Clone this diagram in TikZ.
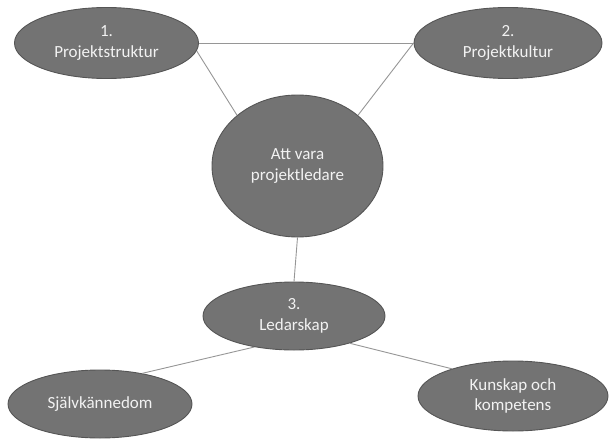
\documentclass[tikz,border=0pt]{standalone}
\usepackage{fontspec}
\setmainfont{Carlito}
\usetikzlibrary{shapes.geometric}
\definecolor{ellfill}{RGB}{115,115,115}
\definecolor{elldraw}{RGB}{85,85,85}
\definecolor{elltext}{RGB}{242,242,242}
\definecolor{linkcol}{RGB}{150,150,150}
\tikzset{
  bubble/.style={ellipse, draw=elldraw, line width=0.9pt, fill=ellfill,
    text=elltext, inner sep=0pt, align=center,
    font=\fontsize{17}{20.5}\selectfont},
  link/.style={draw=linkcol, line width=0.9pt}
}
\begin{document}
\begin{tikzpicture}[x=1pt,y=-1pt]
\useasboundingbox (0,0) rectangle (610,439);
\node[bubble, minimum width=184pt, minimum height=71pt] (n1) at (106.5,43) {1.\\Projektstruktur};
\node[bubble, minimum width=188pt, minimum height=71pt] (n2) at (508,43) {2.\\Projektkultur};
\node[bubble, minimum width=171pt, minimum height=142pt] (c) at (297.5,166) {Att vara\\projektledare};
\node[bubble, minimum width=182pt, minimum height=68pt] (n3) at (294,316) {3.\\Ledarskap};
\node[bubble, minimum width=184pt, minimum height=68pt] (s) at (100,404) {Självkännedom};
\node[bubble, minimum width=190pt, minimum height=70pt] (k) at (513,396) {Kunskap och\\kompetens};
\draw[link] (n1.east) -- (n2.west);
\draw[link] (n1.-5) -- (c.140);
\draw[link] (n2.180) -- (c.40);
\draw[link] (c.south) -- (n3.north);
\draw[link] (n3.218) -- (s.36);
\draw[link] (n3.-26) -- (k.156);
\end{tikzpicture}
\end{document}
